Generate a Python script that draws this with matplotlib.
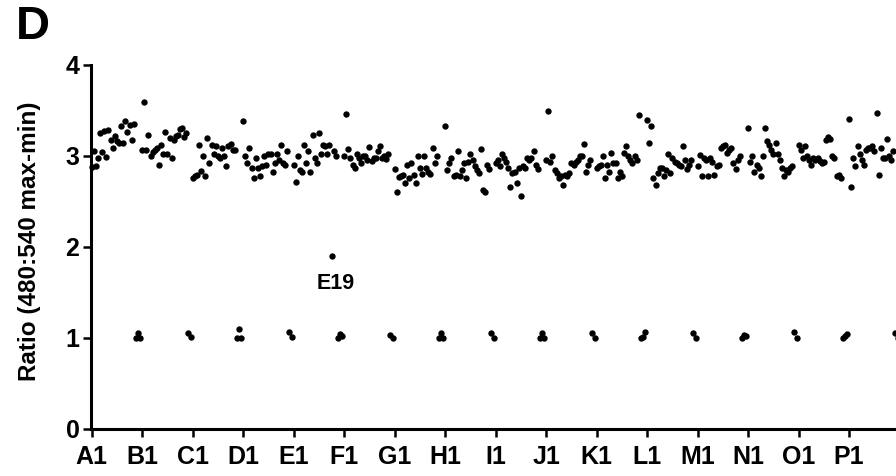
import numpy as np
import matplotlib
matplotlib.use("Agg")
import matplotlib.pyplot as plt

plt.rcParams['font.family'] = ['Liberation Sans', 'DejaVu Sans']
plt.rcParams['font.weight'] = 'bold'

# 16 plate rows x 24 wells (controls near 1.0 at row ends)
row_A = [2.87, 3.05, 2.89, 2.97, 3.25, 3.04, 3.27, 2.98, 3.28, 3.17, 3.08, 3.21, 3.16, 3.14, 3.32, 3.14, 3.38, 3.26, 3.34, 3.17, 3.35, 1.00, 1.05, 1.00]
row_B = [3.06, 3.59, 3.06, 3.23, 2.99, 3.04, 3.06, 3.08, 2.90, 3.12, 3.02, 3.26, 3.02, 3.19, 2.97, 3.17, 3.21, 3.23, 3.29, 3.30, 3.20, 3.25, 1.05, 1.01]
row_C = [2.75, 2.77, 2.79, 3.12, 2.83, 3.00, 2.78, 3.19, 2.92, 3.12, 3.02, 3.10, 3.00, 2.97, 3.08, 2.99, 2.88, 3.10, 3.13, 3.06, 3.06, 1.00, 1.09, 1.00]
row_D = [3.38, 2.99, 2.92, 3.08, 2.86, 2.75, 2.97, 2.86, 2.77, 2.88, 2.99, 2.90, 3.02, 3.02, 2.82, 2.92, 3.02, 2.95, 3.12, 2.92, 2.90, 3.05, 1.065, 1.01]
row_E = [2.90, 2.71, 3.00, 2.84, 2.82, 3.12, 2.92, 3.05, 2.82, 3.22, 2.97, 2.92, 3.25, 3.02, 3.12, 3.10, 3.02, 3.11, 1.90, 3.05, 3.00, 1.00, 1.04, 1.02]
row_F = [3.00, 3.46, 3.07, 2.97, 2.90, 2.86, 3.02, 2.97, 2.92, 2.99, 3.00, 2.95, 3.09, 2.94, 2.97, 2.97, 3.05, 3.10, 2.97, 3.00, 2.96, 3.02, 1.03, 1.00]
row_G = [2.85, 2.60, 2.76, 2.77, 2.79, 2.70, 2.90, 2.75, 2.92, 2.79, 2.70, 2.99, 2.86, 2.80, 2.99, 2.86, 2.82, 2.80, 3.08, 2.92, 2.99, 1.00, 1.05, 1.00]
row_H = [3.32, 2.84, 2.92, 2.97, 2.77, 2.79, 3.05, 2.77, 2.84, 2.92, 2.75, 2.93, 3.02, 2.95, 2.88, 2.84, 2.81, 3.07, 2.62, 2.60, 2.90, 2.85, 1.05, 1.00]
row_I = [2.92, 2.95, 2.88, 3.02, 2.97, 2.93, 2.86, 2.65, 2.81, 2.82, 2.70, 2.86, 2.56, 2.88, 2.86, 2.97, 2.95, 2.97, 3.05, 2.90, 2.85, 1.00, 1.05, 1.00]
row_J = [2.95, 3.49, 2.93, 2.99, 2.84, 2.81, 2.75, 2.77, 2.68, 2.79, 2.77, 2.81, 2.92, 2.90, 2.93, 2.95, 2.99, 3.00, 3.13, 2.82, 2.90, 2.95, 1.05, 1.00]
row_K = [2.86, 2.88, 2.90, 3.00, 2.75, 2.90, 2.82, 3.03, 2.92, 2.92, 2.75, 2.82, 2.77, 3.03, 3.10, 2.99, 2.95, 2.92, 3.00, 2.95, 3.45, 1.00, 1.01, 1.06]
row_L = [3.39, 3.14, 3.32, 2.75, 2.68, 2.81, 2.86, 2.86, 2.78, 2.84, 3.02, 2.81, 2.97, 2.93, 2.92, 2.90, 2.89, 3.10, 2.95, 2.85, 2.90, 2.95, 1.05, 1.00]
row_M = [2.88, 3.01, 2.77, 2.97, 2.95, 2.77, 2.97, 2.93, 2.79, 2.88, 2.90, 3.08, 3.10, 3.12, 3.03, 3.06, 3.08, 2.92, 2.85, 2.95, 3.00, 1.00, 1.03, 1.02]
row_N = [3.30, 2.93, 2.99, 2.82, 2.90, 2.86, 2.77, 2.99, 3.30, 3.16, 3.12, 3.06, 3.02, 3.14, 3.02, 2.95, 2.86, 2.77, 2.84, 2.82, 2.86, 2.88, 1.06, 1.00]
row_O = [3.12, 3.06, 2.97, 3.10, 2.99, 2.95, 2.90, 2.97, 2.95, 2.97, 2.94, 2.92, 2.93, 3.17, 3.20, 3.18, 3.00, 2.97, 2.77, 2.79, 2.75, 1.00, 1.02, 1.04]
row_P = [3.40, 2.65, 2.97, 2.88, 3.10, 3.02, 2.95, 2.90, 3.06, 3.08, 3.08, 3.10, 3.05, 3.47, 2.79, 3.08, 2.97, 2.97, 3.18, 3.00, 2.95, 3.05, 1.05, 1.00]

rows = [row_A, row_B, row_C, row_D, row_E, row_F, row_G, row_H,
        row_I, row_J, row_K, row_L, row_M, row_N, row_O, row_P]
row_letters = list("ABCDEFGHIJKLMNOP")
tick_labels = [r + "1" for r in row_letters]

values = np.concatenate([np.asarray(r, float) for r in rows])
wells = np.arange(values.size)

fig = plt.figure(figsize=(8.96, 4.76), dpi=100)
ax = fig.add_axes([90.6 / 896, 1 - 428.5 / 476, (922.8 - 90.6) / 896, (428.5 - 64.5) / 476])
ax.scatter(wells, values, s=21, c='black', linewidths=0, zorder=3, clip_on=False)

ax.set_xlim(-0.5, 395)
ax.set_ylim(0, 4)
ax.set_xticks(np.arange(0, 384, 24))
ax.set_xticklabels(tick_labels)
ax.set_yticks([0, 1, 2, 3, 4])
for s in ['top', 'right']:
    ax.spines[s].set_visible(False)
for s in ['left', 'bottom']:
    ax.spines[s].set_linewidth(2.2)
ax.tick_params(axis='both', width=1.8, length=6, labelsize=18, direction='out')
ax.tick_params(axis='x', pad=6)
ax.tick_params(axis='y', pad=2)
for lab in ax.get_xticklabels() + ax.get_yticklabels():
    lab.set_fontweight('bold')

ax.text(116, 1.59, 'E19', fontsize=15.5, fontweight='bold', ha='center', va='center')

fig.text(30 / 896, 1 - 241.5 / 476, 'Ratio (480:540 max-min)', rotation=90,
         fontsize=17.5, fontweight='bold', ha='center', va='center')
fig.text(16 / 896, 1 - 27 / 476, 'D', fontsize=34, fontweight='bold', ha='left', va='center')

fig.savefig('out.png', dpi=100)
